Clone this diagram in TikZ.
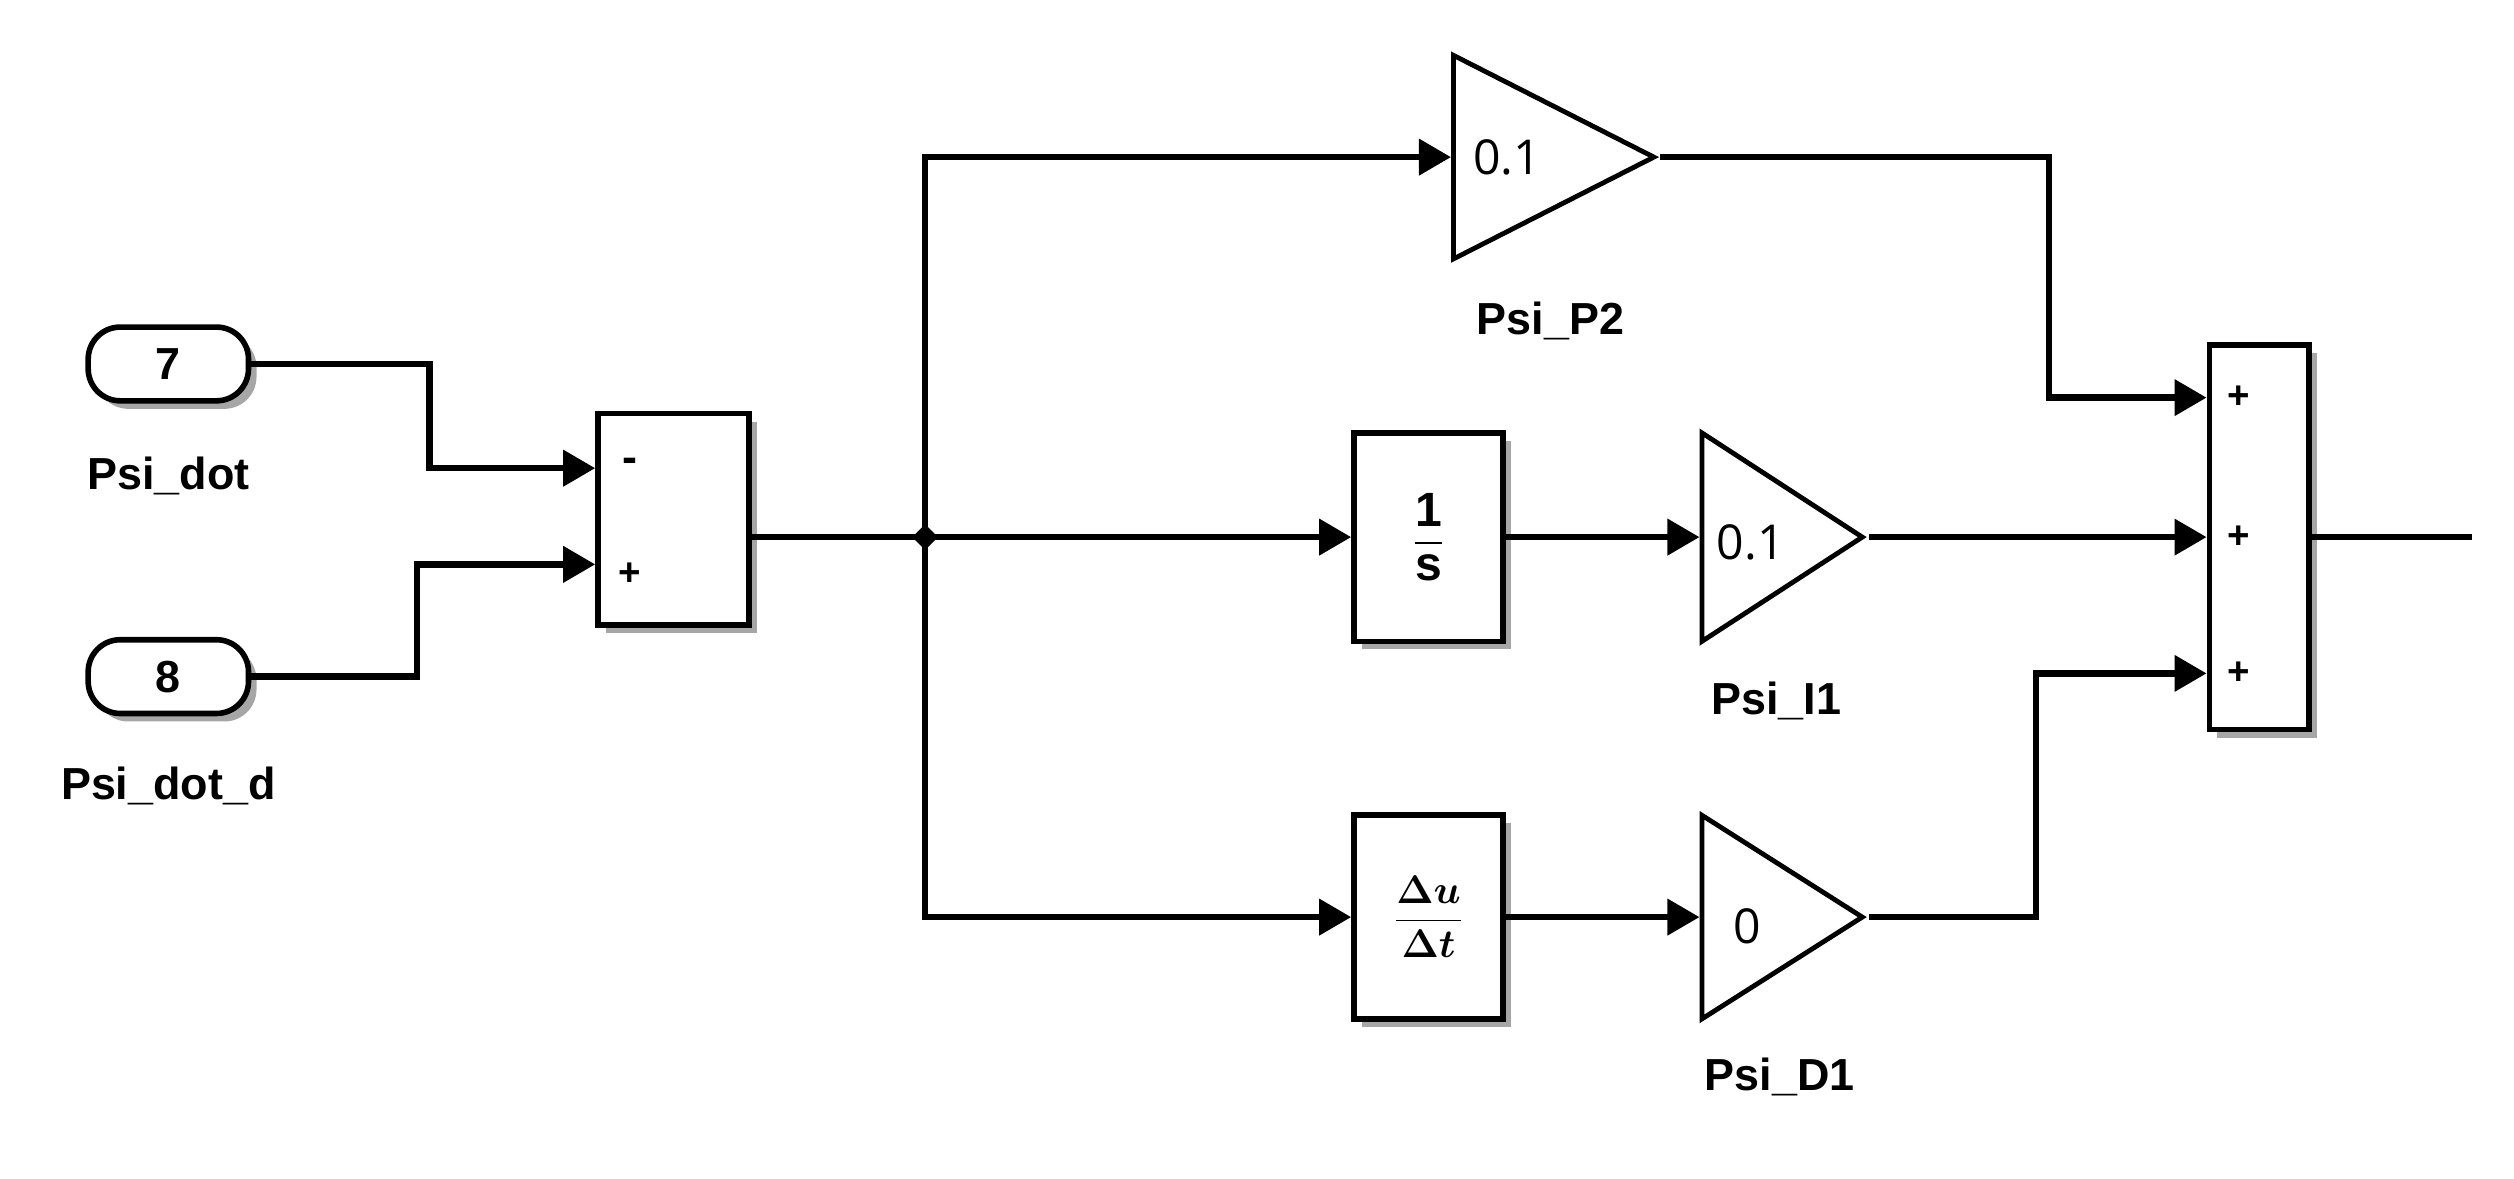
\documentclass[tikz,border=0pt]{standalone}
\usepackage{amsmath}
\usepackage{fontspec}
\setmainfont{Liberation Sans}
\newfontfamily\numf{Open Sans}
\usetikzlibrary{arrows.meta,shadows,shapes.geometric}
\begin{document}
\begin{tikzpicture}[x=1pt,y=-1pt,
  wire/.style={line width=4pt},
  arr/.style={wire,-{Triangle[length=20pt,width=22pt]}},
  blk/.style={draw,line width=3.5pt,fill=white,inner sep=0pt,drop shadow={opacity=0.7,shadow xshift=5pt,shadow yshift=-5pt}},
  gain/.style={draw,line width=3pt,fill=white,isosceles triangle,isosceles triangle stretches,inner sep=0pt,anchor=west},
  lab/.style={font=\fontsize{28}{30}\selectfont\bfseries},
  sgn/.style={font=\fontsize{24}{26}\selectfont\bfseries},
  num/.style={font=\numf\fontsize{30}{32}\selectfont}]
\useasboundingbox (0,0) rectangle (1568,735);
% inports
\node[blk,rounded corners=20pt,minimum width=100pt,minimum height=46pt,lab] (in7) at (105,227) {7};
\node[lab] at (105,297) {Psi\_dot};
\node[blk,rounded corners=20pt,minimum width=100pt,minimum height=46pt,lab] (in8) at (105,422) {8};
\node[lab] at (105,490) {Psi\_dot\_d};
% sum1
\node[blk,minimum width=94pt,minimum height=132pt] (sum1) at (420,324) {};
\node[lab] at (393,290) {-};
\node[sgn] at (393,358) {+};
\draw[arr] (in7.east) -- (268,227) -- (268,292) -- (sum1.west|-0,292);
\draw[arr] (in8.east) -- (260,422) -- (260,352) -- (sum1.west|-0,352);
% junction
\coordinate (j) at (577,335);
\draw[wire] (sum1.east|-j) -- (j);
\fill (j) ++(0,-8) -- ++(8,8) -- ++(-8,8) -- ++(-8,-8) -- cycle;
% integrator / derivative
\node[blk,minimum width=93pt,minimum height=130pt,font=\fontsize{30}{32}\selectfont] (int) at (891,335) {$\displaystyle\frac{\textbf{1}}{\textbf{s}}$};
\node[blk,minimum width=93pt,minimum height=127pt,font=\fontsize{26}{28}\selectfont] (der) at (891,572) {$\displaystyle\frac{\boldsymbol{\Delta u}}{\boldsymbol{\Delta t}}$};
% gains
\node[gain,minimum height=125pt,minimum width=127pt] (p2) at (905,98) {};
\node[num] at (940,98) {0.1};
\node[lab] at (967,200) {Psi\_P2};
\node[gain,minimum height=100pt,minimum width=130pt] (i1) at (1060,335) {};
\node[num] at (1092,338) {0.1};
\node[lab] at (1108,437) {Psi\_I1};
\node[gain,minimum height=100pt,minimum width=127pt] (d1) at (1060,572) {};
\node[num] at (1090,578) {0};
\node[lab] at (1110,672) {Psi\_D1};
\draw[arr] (j) -- (int.west);
\draw[arr] (j) -- (577,98) -- (p2.west);
\draw[arr] (j) -- (577,572) -- (der.west);
\draw[arr] (int.east) -- (i1.west);
\draw[arr] (der.east) -- (d1.west);
% sum2
\node[blk,minimum width=62pt,minimum height=240pt] (sum2) at (1409,335) {};
\foreach \yy in {248,335,420} \node[sgn] at (1396,\yy) {+};
\draw[arr] (p2.apex) -- (1278,98) -- (1278,248) -- (sum2.west|-0,248);
\draw[arr] (i1.apex) -- (sum2.west|-0,335);
\draw[arr] (d1.apex) -- (1270,572) -- (1270,420) -- (sum2.west|-0,420);
\coordinate (out) at (1542,335);
\draw[wire] (sum2.east) -- (out);
\end{tikzpicture}
\end{document}
